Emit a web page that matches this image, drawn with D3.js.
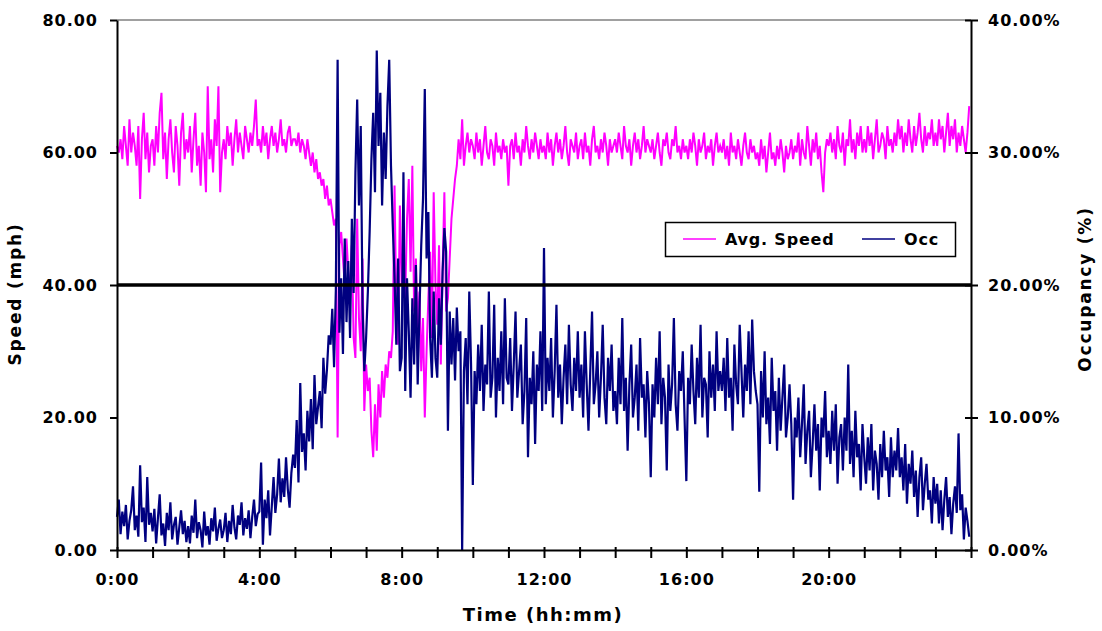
<!DOCTYPE html>
<html>
<head>
<meta charset="utf-8">
<script src="https://d3js.org/d3.v7.min.js"></script>
<style>
  body { margin: 0; background: #fff; }
  text { font-family: "DejaVu Sans", sans-serif; font-weight: bold; fill: #000; }
</style>
</head>
<body>
<svg id="chart" width="1102" height="631"></svg>
<script>
// one reading every 3 minutes, 20 per hour
var stepMin = 3

var speedMph = [
  61,60,62,59,64,61,58,65,60,63,61,58,64,53,62,66,59,63,57,61, // 0h
  62,58,64,60,66,69,59,63,56,62,65,60,57,64,61,55,63,66,59,62,
  60,64,57,62,66,58,61,55,63,60,54,70,59,62,57,65,61,70,54,60,
  62,59,64,61,63,58,62,65,60,63,61,59,64,62,60,63,61,64,68,61,
  62,60,64,61,63,59,62,64,61,63,60,62,65,61,62,60,63,64,61,62, // 4h
  62,61,63,60,62,61,59,62,60,58,60,57,59,56,57,55,56,53,55,52,
  53,51,49,50,17,46,48,44,40,47,42,38,46,32,29,50,35,30,44,21,
  28,24,26,18,14,22,15,25,20,27,23,28,26,30,29,33,55,36,31,52,
  40,45,38,50,56,42,58,36,44,33,39,27,35,20,30,38,45,32,54,40, // 8h
  34,46,28,42,54,36,38,44,50,53,56,58,62,59,65,58,61,63,60,62,
  61,59,63,60,62,58,61,64,60,59,62,61,58,63,60,61,59,62,60,61,
  55,61,62,59,63,60,61,58,62,60,64,61,59,62,60,63,61,59,62,60,
  61,59,63,60,62,58,61,63,60,62,59,61,64,60,58,62,61,60,63,59, // 12h
  61,62,59,63,60,61,58,62,64,60,61,59,62,60,63,61,58,62,60,61,
  62,60,63,61,59,64,61,60,62,58,61,63,60,62,59,61,64,60,62,61,
  60,62,59,61,63,60,58,62,61,63,60,59,62,61,64,60,61,59,62,60,
  61,59,62,60,63,61,58,62,60,61,63,59,61,60,62,58,61,63,60,61, // 16h
  60,62,59,61,58,63,60,61,59,62,60,58,61,63,60,59,62,60,61,59,
  60,58,62,59,61,57,60,63,59,60,58,61,59,62,60,57,61,59,60,62,
  59,61,60,63,58,62,60,59,64,61,58,62,60,63,59,61,57,54,60,62,
  61,63,60,62,59,64,61,60,63,58,62,61,65,60,62,59,63,61,64,60, // 20h
  62,60,64,61,63,59,62,65,60,61,63,62,59,64,61,62,60,63,61,65,
  62,64,60,63,61,65,62,60,64,61,63,66,62,60,64,61,63,62,65,61,
  63,61,65,62,64,60,63,66,61,64,62,65,60,63,61,64,62,60,63,67
]

var occPct = [
  2.5,3.8,1.2,2.9,1.8,3.4,0.8,2.2,3.0,4.8,1.5,2.6,1.0,6.4,2.1,3.2,0.6,5.5,1.9,2.8, // 0h
  1.4,3.1,0.5,2.4,4.2,1.1,2.0,0.3,2.8,1.5,3.6,0.8,1.9,2.5,0.4,1.7,3.0,1.2,2.2,0.6,
  1.8,0.5,2.6,1.3,3.8,0.9,2.1,1.5,0.2,2.9,1.1,1.8,0.4,2.4,1.4,3.2,0.7,1.6,2.3,0.9,
  1.5,2.8,0.6,2.2,1.2,3.4,1.7,0.8,2.6,1.9,3.6,1.1,2.4,1.6,3.0,0.9,2.5,3.8,1.8,2.7,
  2.9,6.6,0.4,3.8,2.4,4.5,1.1,3.3,5.5,2.8,4.2,6.9,3.6,5.4,4.0,7.0,4.6,3.2,5.8,7.2, // 4h
  6.2,9.8,5.1,12.6,7.4,8.8,6.0,10.5,8.2,11.4,7.6,13.2,9.5,10.8,12.0,9.2,14.5,11.8,13.6,16.2,
  15.5,18.2,13.8,19.6,37.0,16.4,20.5,14.8,23.5,17.2,21.8,16.0,25.0,19.4,28.5,34.0,26.0,32.0,18.5,13.5,
  16.0,19.5,24.0,29.5,33.0,27.0,37.7,30.5,34.5,26.0,31.5,28.0,33.5,37.0,29.0,24.5,20.5,15.5,22.0,13.5,
  14.5,28.5,12.0,20.5,16.5,11.5,19.0,14.0,21.5,12.5,18.0,23.0,26.5,34.8,22.0,25.5,16.0,13.0,19.5,14.5, // 8h
  13.0,19.0,15.5,21.0,24.3,22.5,9.0,18.0,14.0,17.5,12.8,18.3,15.0,16.5,0.0,13.5,16.0,11.0,19.5,14.0,
  4.9,13.5,11.0,15.5,12.0,17.0,10.5,14.0,12.5,19.5,11.5,13.0,18.5,10.0,14.5,12.0,16.5,11.0,19.0,13.0,
  12.5,16.0,10.5,14.0,18.0,11.5,13.5,15.5,9.5,12.0,17.5,7.0,13.0,11.0,15.0,8.0,14.0,12.0,16.5,10.5,
  22.8,11.0,14.5,12.0,16.0,10.0,13.5,18.5,11.5,14.0,9.5,13.0,15.5,11.0,17.0,12.5,10.5,14.5,12.0,16.5, // 12h
  11.5,14.0,10.0,16.5,12.5,9.0,13.5,18.0,11.0,12.5,15.0,10.0,13.0,17.0,11.5,9.5,14.5,12.0,15.5,10.5,
  12.0,9.5,14.5,11.0,17.5,10.5,13.0,7.5,12.5,15.5,10.0,11.5,14.0,9.0,16.0,11.5,12.5,8.5,13.5,11.0,
  5.5,12.5,10.0,14.5,11.0,16.5,9.5,13.0,11.5,6.0,14.0,10.5,12.5,17.5,11.0,9.0,13.5,12.0,15.0,10.0,
  5.2,13.0,11.0,15.5,12.0,9.5,14.5,11.5,17.0,10.0,13.0,12.5,8.5,15.0,11.5,14.0,10.5,16.5,12.0,13.5, // 16h
  12.0,14.5,10.5,16.0,11.5,13.0,9.0,15.5,12.5,11.0,17.0,13.5,10.0,14.0,12.0,16.5,11.0,17.4,13.5,12.0,
  11.0,4.4,13.5,10.0,15.0,9.5,11.5,8.0,14.5,10.5,12.0,7.5,13.0,9.0,11.5,14.0,8.5,10.0,12.5,9.5,
  3.8,10.0,8.5,11.5,7.0,9.5,12.5,6.5,9.0,10.5,5.5,8.0,11.0,7.5,9.5,4.5,10.0,8.5,12.0,7.0,
  9.0,6.5,10.5,7.5,11.0,5.0,8.5,9.5,6.0,10.0,7.5,14.0,6.5,9.0,5.5,10.5,7.0,8.0,4.5,9.5, // 20h
  7.0,5.0,8.5,6.0,9.5,4.5,7.5,6.5,3.8,8.0,5.5,9.0,6.0,7.0,4.0,8.5,5.5,7.5,6.0,9.2,
  5.5,7.0,4.5,8.0,3.5,6.5,5.0,7.5,4.0,6.0,2.5,5.5,7.0,3.0,5.0,6.5,3.8,4.5,2.0,5.5,
  3.5,5.0,2.0,4.5,1.5,3.8,5.5,2.5,4.0,1.2,3.5,4.8,2.8,8.8,3.0,4.2,0.8,3.2,2.2,1.0
]

var hourTicks = d3.range(0, 25)
var labelHours = [0, 4, 8, 12, 16, 20]
var speedTicks = [0, 20, 40, 60, 80]
var occTicks = [0, 10, 20, 30, 40]
var refSpeed = 40
var seriesNames = ["Avg. Speed", "Occ"]
var seriesColors = ["#ff00ff", "#000080"]

var plotL = 117, plotR = 971, plotT = 20, plotB = 550

var svg = d3.select("#chart")

var x = d3.scaleLinear().domain([0, 24]).range([plotL, plotR])
var ySpeed = d3.scaleLinear().domain([0, 80]).range([plotB, plotT])
var yOcc = d3.scaleLinear().domain([0, 40]).range([plotB, plotT])

// plot frame top edge
svg.append("line")
   .attr("x1", plotL).attr("x2", plotR)
   .attr("y1", plotT).attr("y2", plotT)
   .attr("stroke", "#a0a0a0").attr("stroke-width", 2)

// series
var speedLine = d3.line()
  .x(function (d, i) { return x(i * stepMin / 60) })
  .y(function (d) { return ySpeed(d) })
var occLine = d3.line()
  .x(function (d, i) { return x(i * stepMin / 60) })
  .y(function (d) { return yOcc(d) })

svg.append("path").attr("d", speedLine(speedMph))
   .attr("fill", "none").attr("stroke", seriesColors[0]).attr("stroke-width", 2)
svg.append("path").attr("d", occLine(occPct))
   .attr("fill", "none").attr("stroke", seriesColors[1]).attr("stroke-width", 2.2)

// 40 mph reference
svg.append("line")
   .attr("x1", plotL).attr("x2", plotR)
   .attr("y1", ySpeed(refSpeed)).attr("y2", ySpeed(refSpeed))
   .attr("stroke", "#000").attr("stroke-width", 3.5)

// axes
var gl = svg.append("g").attr("transform", "translate(" + plotL + ",0)")
  .call(d3.axisLeft(ySpeed).tickValues(speedTicks).tickSize(7).tickSizeOuter(0).tickPadding(12)
        .tickFormat(function (d) { return d.toFixed(2) }))

var gr = svg.append("g").attr("transform", "translate(" + plotR + ",0)")
  .call(d3.axisRight(yOcc).tickValues(occTicks).tickSize(7).tickSizeOuter(0).tickPadding(10)
        .tickFormat(function (d) { return d.toFixed(2) + "%" }))
gr.selectAll(".tick line").attr("x1", -6)

var gb = svg.append("g").attr("transform", "translate(0," + plotB + ")")
  .call(d3.axisBottom(x).tickValues(hourTicks).tickSize(8).tickSizeOuter(0)
        .tickFormat(function (d) { return labelHours.indexOf(d) >= 0 ? d + ":00" : "" }))
gb.selectAll(".tick line").attr("y1", -3)
gb.selectAll(".tick text").attr("y", 35).attr("dy", 0)

svg.selectAll(".domain").attr("stroke", "#000").attr("stroke-width", 2)
svg.selectAll(".tick line").attr("stroke", "#000").attr("stroke-width", 2)
svg.selectAll(".tick text")
   .style("font-family", "DejaVu Sans").style("font-weight", "bold")
   .style("font-size", "16px").style("letter-spacing", "1px").attr("fill", "#000")

// axis titles
svg.append("text")
   .attr("transform", "translate(21,294) rotate(-90)")
   .attr("text-anchor", "middle")
   .style("font-size", "17px").style("letter-spacing", "1.8px")
   .text("Speed (mph)")
svg.append("text")
   .attr("transform", "translate(1091,289) rotate(-90)")
   .attr("text-anchor", "middle")
   .style("font-size", "17px").style("letter-spacing", "1.8px")
   .text("Occupancy (%)")
svg.append("text")
   .attr("x", 543).attr("y", 621)
   .attr("text-anchor", "middle")
   .style("font-size", "18px").style("letter-spacing", "1.5px")
   .text("Time (hh:mm)")

// legend
var lg = svg.append("g")
lg.append("rect")
  .attr("x", 665.5).attr("y", 222.5).attr("width", 290).attr("height", 34)
  .attr("fill", "#fff").attr("stroke", "#000").attr("stroke-width", 1.5)
var legendX = [683, 862]
seriesNames.forEach(function (name, i) {
  lg.append("line")
    .attr("x1", legendX[i]).attr("x2", legendX[i] + 33)
    .attr("y1", 239).attr("y2", 239)
    .attr("stroke", seriesColors[i]).attr("stroke-width", 1.5)
  lg.append("text")
    .attr("x", legendX[i] + 42).attr("y", 245)
    .style("font-size", "16px").style("letter-spacing", "0.8px")
    .text(name)
})
</script>
</body>
</html>
